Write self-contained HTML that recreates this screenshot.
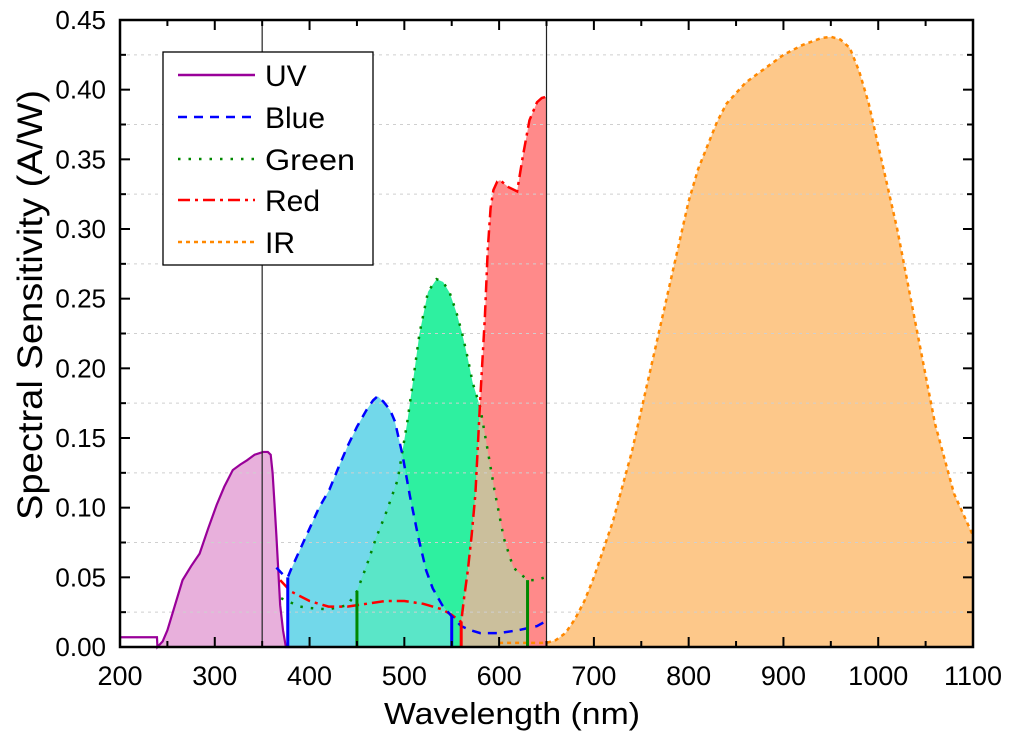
<!DOCTYPE html>
<html><head><meta charset="utf-8"><style>
body{margin:0;background:#fff}
svg text{font-family:"Liberation Sans",Arial,sans-serif;fill:#000}
</style></head><body>
<svg id="chart" width="1024" height="744" viewBox="0 0 1024 744" xmlns="http://www.w3.org/2000/svg">
<g id="fills"></g>
<g id="grid"></g>
<g id="lines"></g>
<g id="axes"></g>
<g>
<rect x="163" y="52" width="210" height="213" fill="#fff" stroke="#000" stroke-width="1.3"/>
<g><line x1="178" y1="75" x2="255" y2="75" stroke="#990099" stroke-width="2.5"/><text x="265" y="86" font-size="30">UV</text></g>
<g><line x1="178" y1="117" x2="255" y2="117" stroke="#0000ff" stroke-width="2.5" stroke-dasharray="9,7"/><text x="265" y="128" font-size="30">Blue</text></g>
<g><line x1="178" y1="159" x2="255" y2="159" stroke="#008800" stroke-width="2.5" stroke-dasharray="2.5,8"/><text x="265" y="170" font-size="30" textLength="90" lengthAdjust="spacingAndGlyphs">Green</text></g>
<g><line x1="178" y1="200" x2="255" y2="200" stroke="#ff0000" stroke-width="2.5" stroke-dasharray="12,5,3,5"/><text x="265" y="211" font-size="30">Red</text></g>
<g><line x1="178" y1="242" x2="255" y2="242" stroke="#ff8800" stroke-width="2.5" stroke-dasharray="4,4"/><text x="265" y="253" font-size="30">IR</text></g>
</g>
<text x="384" y="724" font-size="31" textLength="256" lengthAdjust="spacingAndGlyphs">Wavelength (nm)</text>
<text transform="translate(42,520) rotate(-90)" font-size="35" textLength="430" lengthAdjust="spacingAndGlyphs">Spectral Sensitivity (A/W)</text>
</svg>
<script>
const uvX=[200,239,239.5,245,250,258,266,275,284,293,302,310,319,327,334,342,351,356,359,361,363,365,367,369,372,375,380,399];
const uvY=[0.007,0.007,0,0.004,0.012,0.03,0.048,0.058,0.067,0.085,0.102,0.115,0.127,0.131,0.134,0.138,0.14,0.14,0.138,0.125,0.103,0.08,0.055,0.03,0.012,0,0,0];
const blueX=[365,372,377,380,390,400,410,421,430,440,450,460,467,472,478,485,490,498,506,515,523,530,540,550,560,570,580,600,620,640,648];
const blueY=[0.057,0.052,0.05,0.055,0.07,0.085,0.1,0.113,0.128,0.144,0.158,0.17,0.177,0.18,0.176,0.17,0.162,0.138,0.108,0.078,0.055,0.042,0.03,0.022,0.015,0.012,0.01,0.01,0.012,0.015,0.018];
const greenX=[370,380,390,400,420,440,450,460,470,480,493,503,509,516,525,534,541,548,555,561,567,572,580,588,595,605,615,630,640,648];
const greenY=[0.035,0.032,0.029,0.028,0.027,0.03,0.04,0.058,0.078,0.095,0.12,0.161,0.19,0.225,0.255,0.264,0.262,0.254,0.24,0.225,0.207,0.19,0.172,0.141,0.113,0.078,0.057,0.048,0.048,0.05];
const redX=[369,380,400,420,440,460,480,500,520,540,550,560,563,567,571,575,580,585,588,591,594,598,601,610,619,625,632,640,645,650];
const redY=[0.048,0.04,0.033,0.029,0.029,0.031,0.033,0.033,0.031,0.027,0.023,0.018,0.035,0.055,0.08,0.11,0.177,0.237,0.285,0.315,0.328,0.334,0.335,0.33,0.327,0.352,0.378,0.391,0.394,0.395];
const irX=[600,620,650,660,670,680,690,700,710,720,730,740,750,760,770,780,790,800,810,820,830,840,860,880,900,920,940,950,960,970,980,990,1000,1010,1020,1030,1040,1050,1060,1070,1080,1090,1100];
const irY=[0.003,0.003,0.003,0.005,0.01,0.02,0.033,0.05,0.07,0.09,0.115,0.14,0.17,0.2,0.23,0.26,0.29,0.32,0.343,0.36,0.377,0.39,0.405,0.415,0.425,0.432,0.437,0.438,0.436,0.43,0.413,0.39,0.36,0.33,0.3,0.265,0.23,0.195,0.16,0.135,0.11,0.095,0.08];
const xTicks=[200,300,400,500,600,700,800,900,1000,1100];
const yTicks=[0,0.05,0.10,0.15,0.20,0.25,0.30,0.35,0.40,0.45];
const vLines=[350,650];

const X0=120,X1=973,Y0=647,Y1=20;
const sx=v=>X0+(v-200)/900*(X1-X0);
const sy=v=>Y0-v/0.45*(Y0-Y1);
const NS="http://www.w3.org/2000/svg";
function el(tag,attrs,parent){const e=document.createElementNS(NS,tag);for(const k in attrs)e.setAttribute(k,attrs[k]);parent.appendChild(e);return e;}
function interp(xs,ys,x){if(x<=xs[0])return ys[0];for(let i=1;i<xs.length;i++){if(x<=xs[i]){const t=(x-xs[i-1])/(xs[i]-xs[i-1]||1);return ys[i-1]+t*(ys[i]-ys[i-1]);}}return ys[ys.length-1];}
function ptsBetween(xs,ys,a,b){const p=[[a,interp(xs,ys,a)]];xs.forEach((x,i)=>{if(x>a&&x<b)p.push([x,ys[i]]);});p.push([b,interp(xs,ys,b)]);return p;}
function areaPath(p){let d="M"+sx(p[0][0])+","+sy(0);p.forEach(q=>d+="L"+sx(q[0])+","+sy(q[1]));d+="L"+sx(p[p.length-1][0])+","+sy(0)+"Z";return d;}
function minPts(xa,ya,xb,yb,a,b){const p=[];for(let x=a;x<=b;x+=0.5)p.push([x,Math.min(interp(xa,ya,x),interp(xb,yb,x))]);return p;}
const fills=document.getElementById('fills');
let f;
f=el('path',{d:areaPath(ptsBetween(uvX,uvY,239.5,377)),fill:'#e8b0dc'},fills);

f=el('path',{d:areaPath(ptsBetween(blueX,blueY,377,550)),fill:'#72d8ea'},fills);

f=el('path',{d:areaPath(ptsBetween(greenX,greenY,450,630)),fill:'#2ef0a0'},fills);

f=el('path',{d:areaPath(ptsBetween(redX,redY,560,650)),fill:'#ff8a8a'},fills);

f=el('path',{d:areaPath(minPts(blueX,blueY,greenX,greenY,450,550)),fill:'#5ae6c8'},fills);

f=el('path',{d:areaPath(minPts(redX,redY,greenX,greenY,560,630)),fill:'#cbbf9c'},fills);

f=el('path',{d:areaPath(ptsBetween(irX,irY,650,1100)),fill:'#fdc88a'},fills);


const grid=document.getElementById('grid');
for(let v=0.025;v<0.45;v+=0.05){const g=el('line',{x1:X0,x2:X1,y1:sy(v),y2:sy(v),stroke:'#cfcfcf','stroke-width':1,'stroke-dasharray':'3,4'},grid);
}

const lines=document.getElementById('lines');
function poly(xs,ys,style,name){const d=xs.map((x,i)=>(i?"L":"M")+sx(x)+","+sy(ys[i])).join("");const p=el('path',Object.assign({d:d,fill:'none','stroke-width':2.5},style),lines);

}
poly(uvX,uvY,{stroke:'#990099','stroke-width':2.2},'uv-line');
poly(irX,irY,{stroke:'#ff8800','stroke-dasharray':'4,4'},'ir-line');
poly(greenX,greenY,{stroke:'#008800','stroke-dasharray':'2.5,8'},'green-line');
poly(redX,redY,{stroke:'#ff0000','stroke-dasharray':'12,5,3,5'},'red-line');
poly(blueX,blueY,{stroke:'#0000ff','stroke-dasharray':'9,7'},'blue-line');
function vbar(x,top,col,name){const l=el('line',{x1:sx(x),x2:sx(x),y1:sy(0),y2:sy(top),stroke:col,'stroke-width':3},lines);
}
vbar(377,interp(blueX,blueY,377),'#0000ff','blue-start-edge');
vbar(550,interp(blueX,blueY,550),'#0000ff','blue-end-edge');
vbar(450,interp(greenX,greenY,450),'#008800','green-start-edge');
vbar(630,interp(greenX,greenY,630),'#008800','green-end-edge');
vbar(560,interp(redX,redY,560),'#ff0000','red-start-edge');

const axes=document.getElementById('axes');
vLines.forEach(v=>{const l=el('line',{x1:sx(v),x2:sx(v),y1:Y1,y2:Y0,stroke:'#222','stroke-width':1.2},axes);
});
const fr=el('rect',{x:X0,y:Y1,width:X1-X0,height:Y0-Y1,fill:'none',stroke:'#000','stroke-width':2.5},axes);

xTicks.forEach((v,i)=>{
 el('line',{x1:sx(v),x2:sx(v),y1:Y0,y2:Y0-10,stroke:'#000','stroke-width':2},axes);
 el('line',{x1:sx(v),x2:sx(v),y1:Y1,y2:Y1+10,stroke:'#000','stroke-width':2},axes);
 if(i<xTicks.length-1){const m=v+50;el('line',{x1:sx(m),x2:sx(m),y1:Y0,y2:Y0-6,stroke:'#000','stroke-width':2},axes);el('line',{x1:sx(m),x2:sx(m),y1:Y1,y2:Y1+6,stroke:'#000','stroke-width':2},axes);}
 const t=el('text',{x:sx(v),y:685,'font-size':27,'text-anchor':'middle'},axes);t.textContent=v;
 
});
yTicks.forEach((v,i)=>{
 el('line',{x1:X0,x2:X0+10,y1:sy(v),y2:sy(v),stroke:'#000','stroke-width':2},axes);
 el('line',{x1:X1,x2:X1-10,y1:sy(v),y2:sy(v),stroke:'#000','stroke-width':2},axes);
 if(i<yTicks.length-1){const m=v+0.025;el('line',{x1:X0,x2:X0+6,y1:sy(m),y2:sy(m),stroke:'#000','stroke-width':2},axes);el('line',{x1:X1,x2:X1-6,y1:sy(m),y2:sy(m),stroke:'#000','stroke-width':2},axes);}
 const t=el('text',{x:106,y:sy(v)+9,'font-size':26,'text-anchor':'end'},axes);t.textContent=v.toFixed(2);
 
});
</script>
</body></html>
